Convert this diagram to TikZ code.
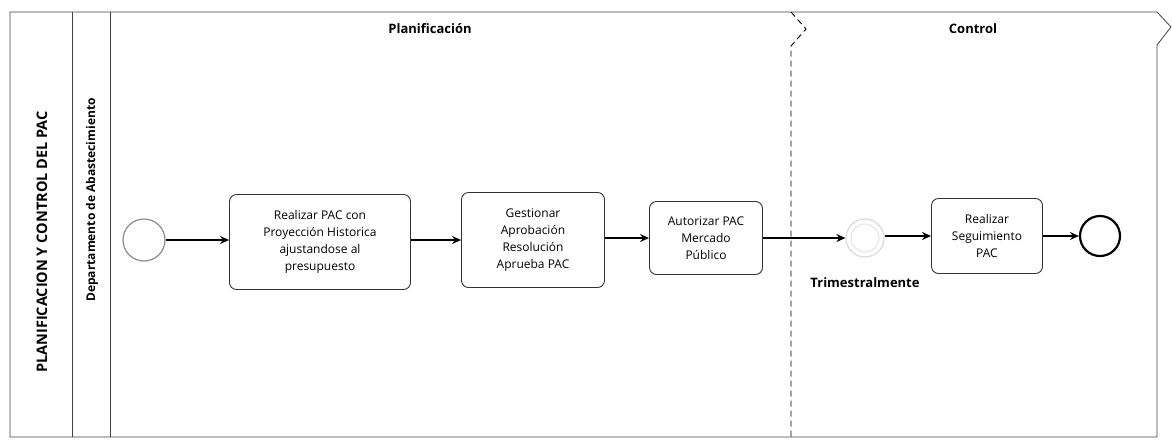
\documentclass[tikz,border=0pt]{standalone}
\usepackage{fontspec}
\setmainfont{Open Sans}
\usetikzlibrary{arrows.meta}

\begin{document}
\begin{tikzpicture}[x=1pt,y=-1pt,
  task/.style={draw=black!80,line width=0.9pt,rounded corners=7pt,align=center,inner sep=0pt,
    font=\fontsize{12}{17}\selectfont},
  flow/.style={-{Stealth[length=9pt,width=8pt]},line width=1.1pt},
  lanetext/.style={rotate=90,font=\bfseries\fontsize{14.5}{16}\selectfont},
  headtext/.style={font=\bfseries\fontsize{13}{15}\selectfont}]
\useasboundingbox (0,0) rectangle (1172,440);

% pool and lanes
\draw[line width=0.8pt,black!75] (10,12) -- (1157,12) -- (1171,27) -- (1157,45) -- (1157,437) -- (10,437) -- cycle;
\draw[line width=0.8pt,black!75] (72,12) -- (72,437);
\draw[line width=0.8pt,black!75] (110,12) -- (110,437);
\draw[line width=0.9pt,dashed,dash pattern=on 6pt off 4pt] (791,12) -- (806,29) -- (791,46) -- (791,437);

\node[lanetext] (pool) at (42,242) {PLANIFICACION Y CONTROL DEL PAC};
\node[lanetext,font=\bfseries\fontsize{12}{14}\selectfont] (lane) at (92,200) {Departamento de Abastecimiento};
\node[headtext] (plan) at (430,29) {Planificación};
\node[headtext] (ctrl) at (973,29) {Control};

% events and tasks
\node[circle,draw=black!45,line width=1.2pt,minimum size=42pt,inner sep=0pt] (start) at (144,240) {};
\node[task,minimum width=181pt,minimum height=95pt] (t1) at (320,242) {Realizar PAC con\\Proyección Historica\\ajustandose al\\presupuesto};
\node[task,minimum width=143pt,minimum height=95pt] (t2) at (533,240) {Gestionar\\Aprobación\\Resolución\\Aprueba PAC};
\node[task,minimum width=113pt,minimum height=73pt] (t3) at (706,238) {Autorizar PAC\\Mercado\\Público};
\node[circle,draw=black!15,line width=1.2pt,minimum size=38pt,inner sep=0pt] (timer) at (865,238) {};
\draw[black!12,line width=0.9pt] (timer) circle (14pt);
\node[headtext] (trim) at (865,283) {Trimestralmente};
\node[task,minimum width=111pt,minimum height=75pt] (t4) at (987,236) {Realizar\\Seguimiento\\PAC};
\node[circle,draw=black,line width=2.2pt,minimum size=40pt,inner sep=0pt] (end) at (1100,236) {};

% sequence flows
\draw[flow] (start) -- (start -| t1.west);
\draw[flow] (t1.east |- t2) -- (t2);
\draw[flow] (t2.east |- t3) -- (t3);
\draw[flow] (t3) -- (timer);
\draw[flow] (timer.east |- t4) -- (t4);
\draw[flow] (t4) -- (end);
\end{tikzpicture}
\end{document}
